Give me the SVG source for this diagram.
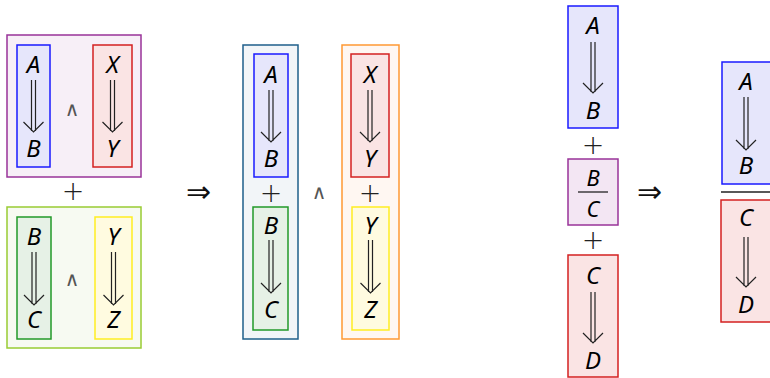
<svg xmlns="http://www.w3.org/2000/svg" width="770" height="378" viewBox="0 0 770 378">
<style>
.v{font-family:"Noto Sans","Open Sans",sans-serif;font-style:italic;font-size:24px;fill:#000;text-anchor:middle}
.f{font-size:22px}
.op{font-family:"DejaVu Sans",sans-serif;font-weight:200;font-size:27px;fill:#222;text-anchor:middle}
.imp{font-family:"DejaVu Sans",sans-serif;font-weight:200;font-size:30px;fill:#111;text-anchor:middle}
.and{font-family:"DejaVu Sans",sans-serif;font-size:20px;fill:#555;text-anchor:middle}
.ar{fill:none;stroke:#222;stroke-width:1.2}
.blue{fill:#e6e6fb;stroke:#1a1aff;stroke-width:1.5}
.red{fill:#fae4e4;stroke:#d42020;stroke-width:1.5}
.green{fill:#e6f1e6;stroke:#229928;stroke-width:1.5}
.yellow{fill:#fffbe0;stroke:#ffee22;stroke-width:1.5}
.purple{fill:#f7eff7;stroke:#993399;stroke-width:1.5}
.lime{fill:#f7faf2;stroke:#99cc33;stroke-width:1.5}
.navy{fill:#f2f5f8;stroke:#1f5f8b;stroke-width:1.5}
.orange{fill:#fff7f2;stroke:#ff9933;stroke-width:1.5}
.pbox{fill:#f3e6f3;stroke:#993399;stroke-width:1.5}
</style>
<rect width="770" height="378" fill="#fff"/>

<g id="left-top">
<rect class="purple" x="7" y="35" width="134" height="142"/>
<rect class="blue" x="17" y="45" width="33" height="122"/>
<rect class="red" x="93" y="45" width="39" height="122"/>
<text class="v" x="33.5" y="73">A</text>
<text class="v" x="33.5" y="157">B</text>
<text class="v" x="112.5" y="73">X</text>
<text class="v" x="112.5" y="157">Y</text>
<text class="and" x="72" y="116">∧</text>
</g>
<text class="op" x="73" y="200">+</text>
<g id="left-bottom">
<rect class="lime" x="7" y="207" width="134" height="141"/>
<rect class="green" x="17" y="217" width="34" height="122"/>
<rect class="yellow" x="95" y="217" width="37" height="122"/>
<text class="v" x="34" y="245">B</text>
<text class="v" x="34" y="328">C</text>
<text class="v" x="113.5" y="245">Y</text>
<text class="v" x="113.5" y="328">Z</text>
<text class="and" x="72" y="286">∧</text>
</g>

<text class="imp" x="198" y="202">⇒</text>

<g id="mid-left">
<rect class="navy" x="243" y="45" width="55" height="294"/>
<rect class="blue" x="254" y="54" width="34" height="123"/>
<rect class="green" x="253" y="207" width="35" height="123"/>
<text class="v" x="271" y="83">A</text>
<text class="v" x="271" y="167">B</text>
<text class="op" x="271" y="202">+</text>
<text class="v" x="271" y="234">B</text>
<text class="v" x="271" y="318">C</text>
</g>
<text class="and" x="319" y="199">∧</text>
<g id="mid-right">
<rect class="orange" x="342" y="45" width="57" height="294"/>
<rect class="red" x="351" y="54" width="38" height="123"/>
<rect class="yellow" x="352" y="207" width="37" height="123"/>
<text class="v" x="370" y="83">X</text>
<text class="v" x="370" y="167">Y</text>
<text class="op" x="370" y="202">+</text>
<text class="v" x="370.5" y="234">Y</text>
<text class="v" x="370.5" y="318">Z</text>
</g>

<g id="right-stack">
<rect class="blue" x="568" y="6" width="50" height="122"/>
<text class="v" x="593" y="34">A</text>
<text class="v" x="593" y="119">B</text>
<text class="op" x="593" y="154">+</text>
<rect class="pbox" x="568" y="159" width="50" height="66"/>
<text class="v f" x="593" y="186">B</text>
<line x1="578" y1="192" x2="608" y2="192" stroke="#222" stroke-width="1.3"/>
<text class="v f" x="593" y="217">C</text>
<text class="op" x="593" y="249">+</text>
<rect class="red" x="568" y="255" width="50" height="122"/>
<text class="v" x="593" y="284">C</text>
<text class="v" x="593" y="369">D</text>
</g>

<text class="imp" x="649" y="202">⇒</text>

<g id="right-result">
<rect class="blue" x="722" y="62" width="52" height="122"/>
<text class="v" x="746" y="90">A</text>
<text class="v" x="746" y="174">B</text>
<line x1="721" y1="192" x2="772" y2="192" stroke="#222" stroke-width="1.5"/>
<rect class="red" x="721" y="200" width="53" height="122"/>
<text class="v" x="746" y="226">C</text>
<text class="v" x="746" y="313">D</text>
</g>

<g id="connectors" class="ar">
<path d="M31.5 80V131M35.5 80V131M23.5 122L33.5 132L43.5 122"/>
<path d="M110.5 80V131M114.5 80V131M102.5 122L112.5 132L122.5 122"/>
<path d="M32 252V304M36 252V304M24 295L34 305L44 295"/>
<path d="M111.5 252V304M115.5 252V304M103.5 295L113.5 305L123.5 295"/>
<path d="M269 90V141M273 90V141M261 132L271 142L281 132"/>
<path d="M269 240V292M273 240V292M261 283L271 293L281 283"/>
<path d="M368 90V141M372 90V141M360 132L370 142L380 132"/>
<path d="M368.5 240V292M372.5 240V292M360.5 283L370.5 293L380.5 283"/>
<path d="M591 42V92M595 42V92M583 83L593 93L603 83"/>
<path d="M591 292V342M595 292V342M583 333L593 343L603 333"/>
<path d="M744 97V149M748 97V149M736 140L746 150L756 140"/>
<path d="M744 237V286M748 237V286M736 277L746 287L756 277"/>
</g>
</svg>
